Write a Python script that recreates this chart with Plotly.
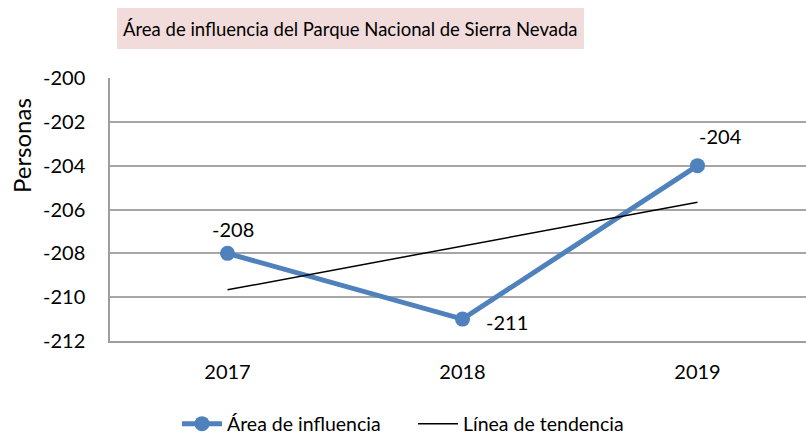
import numpy as np
import plotly.graph_objects as go

years = ["2017", "2018", "2019"]
values = [-208, -211, -204]
y_ticks = [-200, -202, -204, -206, -208, -210, -212]
y_tick_labels = ["-200", "-202", "-204", "-206", "-208", "-210", "-212"]
title_text = "Área de influencia del Parque Nacional de Sierra Nevada"
series_name = "Área de influencia"
trend_name = "Línea de tendencia"
y_title = "Personas"

FONT = "Lato"
BLUE = "#4F81BD"

xi = np.arange(len(years))
slope, intercept = np.polyfit(xi, values, 1)
trend = slope * xi + intercept

L, R, T, B = 110, 0, 78, 94
W, H = 806, 435
pw, ph = W - L - R, H - T - B

def px(x):
    return (x - L) / pw

def py(y):
    return (H - B - y) / ph

fig = go.Figure()
fig.add_trace(go.Scatter(
    x=xi, y=values, mode="lines+markers", name=series_name,
    line=dict(color=BLUE, width=5),
    marker=dict(color=BLUE, size=15),
))
fig.add_trace(go.Scatter(
    x=xi, y=trend, mode="lines", name=trend_name,
    line=dict(color="black", width=1.5),
))

# data labels
offsets = [(5, 24, "center"), (21, -3, "left"), (-1, 30, "left")]
for i, v in enumerate(values):
    dx, dy, anchor = offsets[i]
    fig.add_annotation(x=xi[i], y=v, text=str(v), showarrow=False,
                       xshift=dx, yshift=dy, xanchor=anchor, yanchor="middle",
                       font=dict(family=FONT, size=20, color="black"))

# title box
fig.add_shape(type="rect", xref="paper", yref="paper",
              x0=px(117), x1=px(584), y0=py(49), y1=py(8),
              fillcolor="#F2DCDB", line=dict(width=0), layer="below")
fig.add_annotation(xref="paper", yref="paper", x=px(350), y=py(29),
                   text=title_text, showarrow=False, xanchor="center", yanchor="middle",
                   font=dict(family=FONT, size=18.5, color="black"))

# y title
fig.add_annotation(xref="paper", yref="paper", x=px(21), y=py(146),
                   text=y_title, showarrow=False, textangle=-90,
                   xanchor="center", yanchor="middle",
                   font=dict(family=FONT, size=24, color="black"))

fig.update_xaxes(
    range=[-0.5, (W - R - L) / 235 - 0.5],
    tickvals=list(xi), ticktext=years,
    showgrid=False, zeroline=False, automargin=False,
    showline=True, linecolor="#9E9E9E", linewidth=1.5,
    ticks="", ticklabelstandoff=12,
    tickfont=dict(family=FONT, size=20, color="black"),
)
fig.update_yaxes(
    range=[-212, -200],
    tickvals=y_ticks, ticktext=y_tick_labels,
    showgrid=True, gridcolor="#A6A6A6", gridwidth=1.5,
    zeroline=False, automargin=False,
    showline=True, linecolor="#9E9E9E", linewidth=1.5,
    ticks="", ticklabelstandoff=19,
    tickfont=dict(family=FONT, size=20, color="black"),
)

fig.update_layout(
    width=W, height=H,
    margin=dict(l=L, r=R, t=T, b=B, pad=0),
    paper_bgcolor="white", plot_bgcolor="white",
    font=dict(family=FONT, color="black"),
    showlegend=True,
    legend=dict(orientation="h", xref="container", yref="container",
                x=177 / W, xanchor="left", y=(H - 424) / H, yanchor="middle",
                font=dict(family=FONT, size=19.5, color="black"),
                itemwidth=40, entrywidth=181, entrywidthmode="pixels",
                bgcolor="rgba(0,0,0,0)"),
)

fig.write_html("out.html", config={"displayModeBar": False},
               post_script="document.body.style.margin='0';")
